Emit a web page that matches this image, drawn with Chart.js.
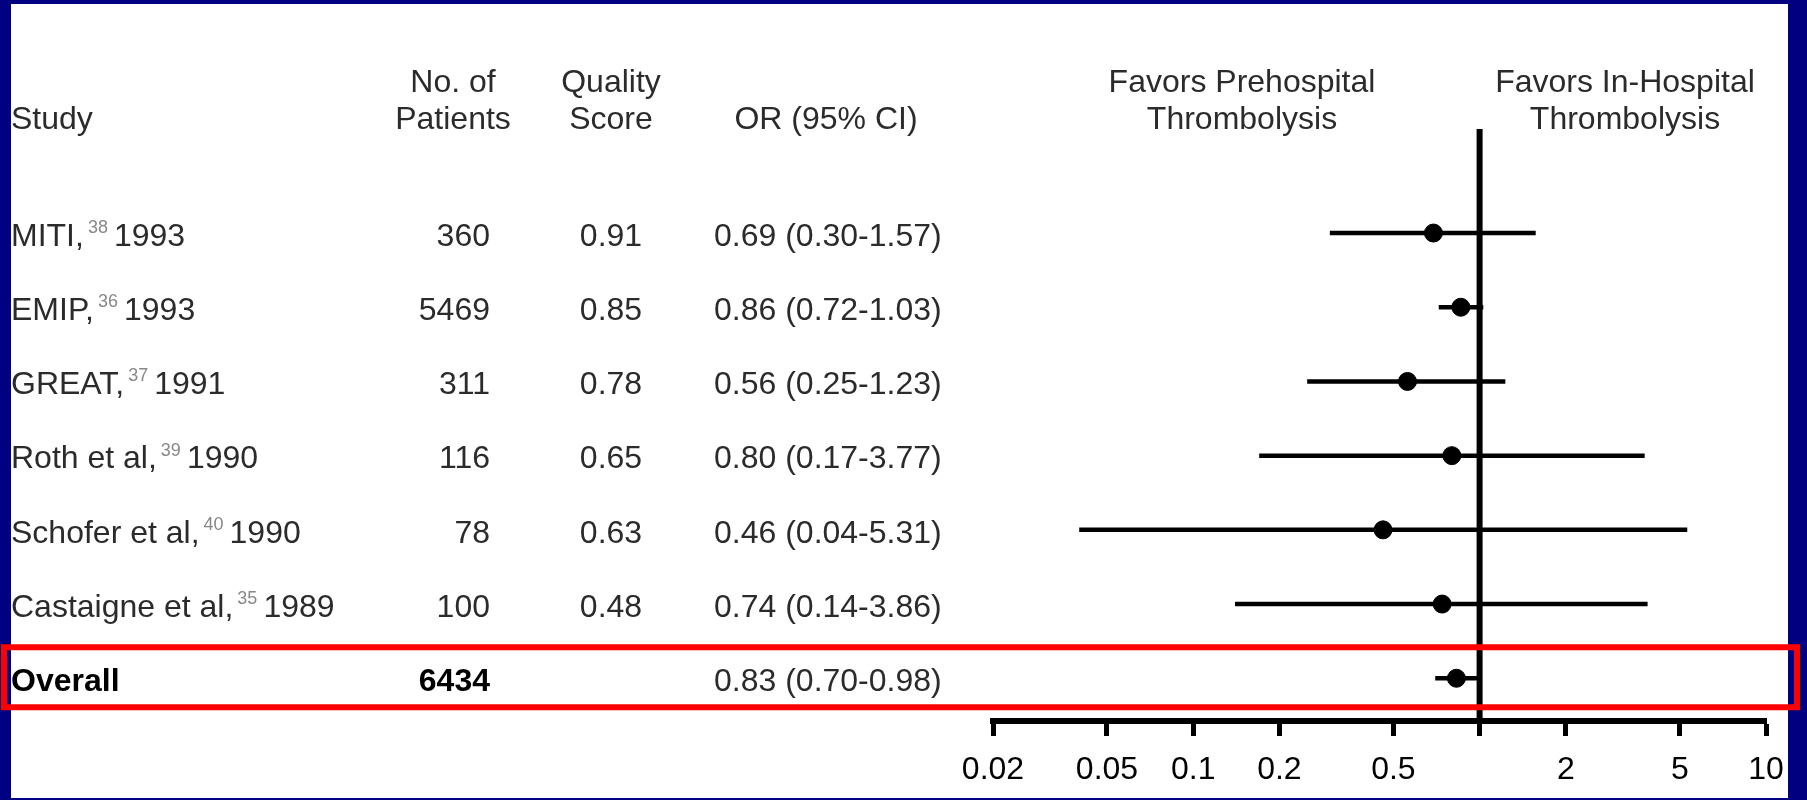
<!doctype html>
<html>
<head>
<meta charset="utf-8">
<title>Prehospital vs In-Hospital Thrombolysis</title>
<script src="https://cdn.jsdelivr.net/npm/chart.js"></script>
<style>
  html, body { margin: 0; padding: 0; background: #000080; }
  #chart { display: block; }
</style>
</head>
<body>
<canvas id="chart" width="1807" height="800"></canvas>
<script>
// data
const studies  = ['MITI,', 'EMIP,', 'GREAT,', 'Roth et al,', 'Schofer et al,', 'Castaigne et al,', 'Overall'];
const refs     = ['38', '36', '37', '39', '40', '35', ''];
const years    = ['1993', '1993', '1991', '1990', '1990', '1989', ''];
const patients = ['360', '5469', '311', '116', '78', '100', '6434'];
const quality  = ['0.91', '0.85', '0.78', '0.65', '0.63', '0.48', ''];
const orValues = [0.69, 0.86, 0.56, 0.80, 0.46, 0.74, 0.83];
const ciLow    = [0.30, 0.72, 0.25, 0.17, 0.04, 0.14, 0.70];
const ciHigh   = [1.57, 1.03, 1.23, 3.77, 5.31, 3.86, 0.98];
const tickValues = [0.02, 0.05, 0.1, 0.2, 0.5, 1, 2, 5, 10];
const tickLabels = ['0.02', '0.05', '0.1', '0.2', '0.5', '', '2', '5', '10'];

const FONT = '"Liberation Sans", Arial, sans-serif';
const TXT = '#2b2b2b';

// one dataset per CI whisker
const ciSets = studies.map((s, i) => ({
    type: 'line',
    data: [{ x: ciLow[i], y: i }, { x: ciHigh[i], y: i }],
    borderColor: '#000',
    borderWidth: 4.5,
    pointRadius: 0,
    order: 2
}));

// white panel + table text + red highlight box
const tablePlugin = {
    id: 'table',
    beforeDraw(chart) {
        const ctx = chart.ctx;
        ctx.save();
        ctx.fillStyle = '#000080';
        ctx.fillRect(0, 0, chart.width, chart.height);
        ctx.fillStyle = '#fff';
        ctx.fillRect(11, 4, 1777, 794);
        ctx.restore();
    },
    afterDraw(chart) {
        const ctx = chart.ctx;
        const y = chart.scales.y;
        ctx.save();
        ctx.textBaseline = 'middle';
        ctx.fillStyle = TXT;
        ctx.font = '32px ' + FONT;

        // headers
        ctx.textAlign = 'left';
        ctx.fillText('Study', 11, 120);
        ctx.textAlign = 'center';
        ctx.fillText('No. of', 453, 83);
        ctx.fillText('Patients', 453, 120);
        ctx.fillText('Quality', 611, 83);
        ctx.fillText('Score', 611, 120);
        ctx.fillText('OR (95% CI)', 826, 120);
        ctx.fillText('Favors Prehospital', 1242, 83);
        ctx.fillText('Thrombolysis', 1242, 120);
        ctx.fillText('Favors In-Hospital', 1625, 83);
        ctx.fillText('Thrombolysis', 1625, 120);

        studies.forEach((name, i) => {
            const py = y.getPixelForValue(i) + 4;
            const last = i === studies.length - 1;
            ctx.fillStyle = last ? '#000' : TXT;
            ctx.font = (last ? 'bold ' : '') + '32px ' + FONT;
            ctx.textAlign = 'left';
            ctx.fillText(name, 11, py);
            if (refs[i]) {
                let w = ctx.measureText(name).width + 4;
                ctx.font = '18px ' + FONT;
                ctx.fillStyle = '#888';
                ctx.fillText(refs[i], 11 + w, py - 9);
                w += ctx.measureText(refs[i]).width + 6;
                ctx.font = '32px ' + FONT;
                ctx.fillStyle = TXT;
                ctx.fillText(years[i], 11 + w, py);
            }
            ctx.fillStyle = last ? '#000' : TXT;
            ctx.font = (last ? 'bold ' : '') + '32px ' + FONT;
            ctx.textAlign = 'right';
            ctx.fillText(patients[i], 490, py);
            ctx.font = '32px ' + FONT;
            ctx.fillStyle = TXT;
            ctx.textAlign = 'center';
            ctx.fillText(quality[i], 611, py);
            ctx.textAlign = 'left';
            ctx.fillText(orValues[i].toFixed(2) + ' (' + ciLow[i].toFixed(2) + '-' + ciHigh[i].toFixed(2) + ')', 714, py);
        });

        // red box round the overall row
        const oy = y.getPixelForValue(studies.length - 1);
        ctx.strokeStyle = '#ff0000';
        ctx.lineWidth = 6;
        ctx.strokeRect(4, oy - 31, 1793, 60);
        ctx.restore();
    }
};

new Chart(document.getElementById('chart'), {
    type: 'scatter',
    data: {
        datasets: [
            {
                data: orValues.map((v, i) => ({ x: v, y: i })),
                backgroundColor: '#000',
                borderColor: '#000',
                pointRadius: 9,
                pointHoverRadius: 9,
                order: 1
            },
            // no-effect line at OR = 1
            {
                type: 'line',
                data: [{ x: 1, y: -1.402 }, { x: 1, y: 6.576 }],
                borderColor: '#000',
                borderWidth: 6,
                pointRadius: 0,
                order: 3
            },
            ...ciSets
        ]
    },
    options: {
        responsive: false,
        animation: false,
        devicePixelRatio: 1,
        layout: { padding: { left: 993, right: 41, top: 129, bottom: 19 } },
        plugins: { legend: { display: false }, tooltip: { enabled: false } },
        scales: {
            x: {
                type: 'logarithmic',
                min: 0.02,
                max: 10,
                afterBuildTicks: (s) => { s.ticks = tickValues.map(v => ({ value: v })); },
                afterFit: (s) => { s.height = 60; },
                ticks: {
                    autoSkip: false,
                    maxRotation: 0,
                    padding: 15,
                    color: '#000',
                    font: { size: 32, family: FONT },
                    callback: (v, idx) => tickLabels[idx]
                },
                grid: { drawOnChartArea: false, drawTicks: true, tickLength: 15, tickWidth: 5, tickColor: '#000' },
                border: { display: true, color: '#000', width: 6 }
            },
            y: {
                type: 'linear',
                reverse: true,
                min: -1.402,
                max: 6.576,
                display: false
            }
        }
    },
    plugins: [tablePlugin]
});
</script>
</body>
</html>
